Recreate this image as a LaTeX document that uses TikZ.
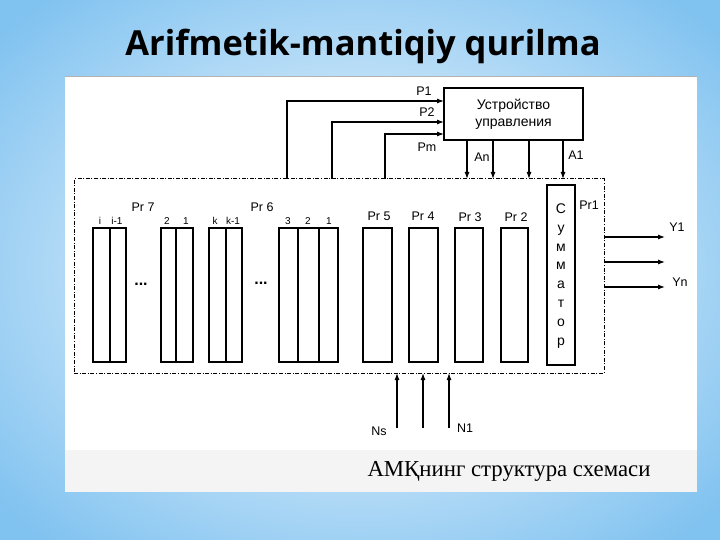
\documentclass[tikz,border=0pt]{standalone}
\usepackage{fontspec}
\setmainfont{Liberation Sans}
\newfontfamily\titlefont{Open Sans}
\newfontfamily\capfont{Liberation Serif}
\usetikzlibrary{arrows.meta,calc}
\definecolor{bgblue}{RGB}{128,194,240}
\definecolor{band}{RGB}{244,244,244}
\begin{document}
\begin{tikzpicture}[x=1pt,y=-1pt,
  reg/.style={draw, line width=1.1pt, inner sep=0pt, outer sep=0pt, anchor=north west, minimum height=134pt},
  alubox/.style={draw, line width=1pt, dash pattern=on 4pt off 1.6pt on 1pt off 1.6pt, inner sep=0pt, outer sep=0pt, anchor=north west, minimum width=530pt, minimum height=194pt},
  arr/.style={-{Latex[length=7pt,width=5pt]}, line width=1.1pt},
  lbl/.style={font=\fontsize{12.5}{14}\selectfont, inner sep=0pt},
  bit/.style={font=\fontsize{10}{12}\selectfont, inner sep=0pt},
  divline/.style={line width=1.1pt}]
\useasboundingbox (0,0) rectangle (720,540);
% background
\shade[inner color=white, outer color=bgblue] (-120,-90) rectangle (840,630);
\fill[white] (65,76) rectangle (697,492);
\fill[band] (65,450) rectangle (697,492);
\draw[gray!60, line width=0.8pt] (65,76) -- (697,76);
% title
\node[font=\titlefont\bfseries\fontsize{34.5}{36}\selectfont] (title) at (363,46) {Arifmetik-mantiqiy qurilma};
% control unit
\node[draw, line width=1.1pt, inner sep=0pt, outer sep=0pt, anchor=north west, minimum width=139pt, minimum height=52pt, align=center, font=\fontsize{14}{17}\selectfont] (cu) at (444,88) {Устройство\\управления};
% ALU dashed box
\node[alubox] (alu) at (74,179) {};
% registers
\node[reg, minimum width=33pt] (g7a) at (93,228) {};
\node[reg, minimum width=32pt] (g7b) at (161,228) {};
\node[reg, minimum width=33pt] (g6a) at (209,228) {};
\node[reg, minimum width=59pt] (g6b) at (279,228) {};
\draw[divline] (110,228) -- (110,362);
\draw[divline] (176,228) -- (176,362);
\draw[divline] (226,228) -- (226,362);
\draw[divline] (298,228) -- (298,362);
\draw[divline] (319,228) -- (319,362);
\node[reg, minimum width=29pt] (pr5) at (363,228) {};
\node[reg, minimum width=29pt] (pr4) at (409,228) {};
\node[reg, minimum width=28pt] (pr3) at (455,228) {};
\node[reg, minimum width=27pt] (pr2) at (501,228) {};
\node[reg, minimum width=28pt, minimum height=180pt] (sum) at (547,185) {};
\node[font=\fontsize{14}{18.9}\selectfont, align=center, inner sep=0pt] (sumtxt) at ($(sum.center)+(0,1)$) {С\\у\\м\\м\\а\\т\\о\\р};
% register labels
\node[lbl] (l7) at (143,207) {Pr 7};
\node[lbl] (l6) at (262,207) {Pr 6};
\node[lbl] (l5) at (379,216) {Pr 5};
\node[lbl] (l4) at (423,216) {Pr 4};
\node[lbl] (l3) at (470,217) {Pr 3};
\node[lbl] (l2) at (516,217) {Pr 2};
\node[lbl] (l1) at (589,205) {Pr1};
\node[bit] (bi) at (100,221) {i};
\node[bit] (bi1) at (117,221) {i-1};
\node[bit] (b2a) at (167,221) {2};
\node[bit] (b1a) at (186,221) {1};
\node[bit] (bk) at (215,221) {k};
\node[bit] (bk1) at (233,221) {k-1};
\node[bit] (b3) at (288,221) {3};
\node[bit] (b2b) at (308,221) {2};
\node[bit] (b1b) at (329,221) {1};
\node[inner sep=0pt, font=\bfseries\fontsize{16}{16}\selectfont] (d1) at (141,284) {...};
\node[inner sep=0pt, font=\bfseries\fontsize{16}{16}\selectfont] (d2) at (261,283) {...};
% P signals
\coordinate (p1s) at (287,179); \coordinate (p1e) at (444,101);
\coordinate (p2s) at (332,179); \coordinate (p2e) at (444,122);
\coordinate (pms) at (385,179); \coordinate (pme) at (444,134);
\draw[arr] (p1s) |- (p1e);
\draw[arr] (p2s) |- (p2e);
\draw[arr] (pms) |- (pme);
\node[lbl] (lp1) at (424,91) {P1};
\node[lbl] (lp2) at (427,112) {P2};
\node[lbl] (lpm) at (427,147) {Pm};
% A signals
\foreach \x/\n in {467/a1,493/a2,529/a3,563/a4}{
  \coordinate (\n s) at (\x,140); \coordinate (\n e) at (\x,179);
  \draw[arr] (\n s) -- (\n e);
}
\node[lbl] (lan) at (482,157) {An};
\node[lbl] (la1) at (576,155) {A1};
% outputs
\foreach \y/\n in {237/y1,262/y2,287/y3}{
  \coordinate (\n s) at (604,\y); \coordinate (\n e) at (665,\y);
  \draw[arr] (\n s) -- (\n e);
}
\node[lbl] (ly1) at (677,227) {Y1};
\node[lbl] (lyn) at (680,282) {Yn};
% inputs
\foreach \x/\n in {397/n1,423/n2,449/n3}{
  \coordinate (\n s) at (\x,428); \coordinate (\n e) at (\x,373);
  \draw[arr] (\n s) -- (\n e);
}
\node[lbl] (lns) at (379,431) {Ns};
\node[lbl] (ln1) at (465,428) {N1};
% caption
\node[font=\capfont\fontsize{22.8}{24}\selectfont, inner sep=0pt] (cap) at (509,471) {АМҚнинг структура схемаси};
\end{tikzpicture}
\end{document}
